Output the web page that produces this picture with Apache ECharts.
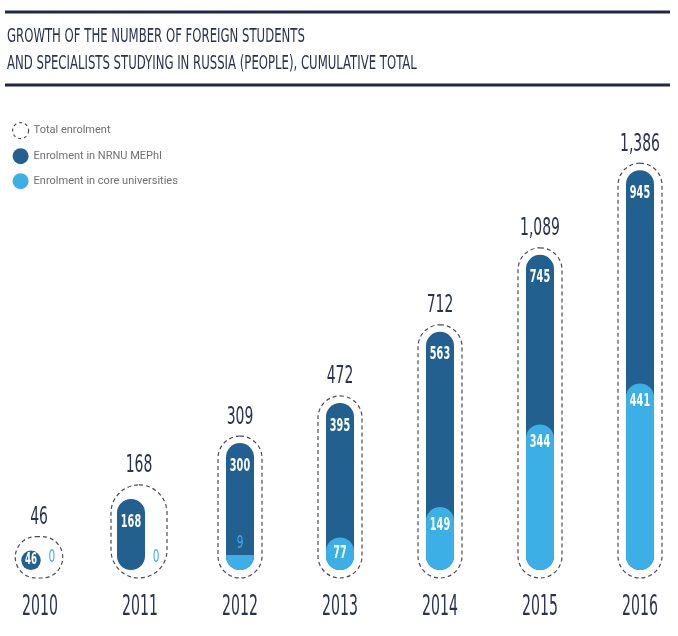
<!DOCTYPE html>
<html>
<head>
<meta charset="utf-8">
<script src="https://cdn.jsdelivr.net/npm/echarts@6/dist/echarts.min.js"></script>
<style>
html,body{margin:0;padding:0;background:#fff;}
#chart{width:678px;height:636px;}
</style>
</head>
<body>
<div id="chart"></div>
<script>
// ---- data ----
const years = ['2010', '2011', '2012', '2013', '2014', '2015', '2016'];
const totalEnrolment = [46, 168, 309, 472, 712, 1089, 1386];
const mephiEnrolment = [46, 168, 300, 395, 563, 745, 945];
const coreEnrolment = [0, 0, 9, 77, 149, 344, 441];
const titleLines = ['GROWTH OF THE NUMBER OF FOREIGN STUDENTS', 'AND SPECIALISTS STUDYING IN RUSSIA (PEOPLE), CUMULATIVE TOTAL'];
const legendNames = ['Total enrolment', 'Enrolment in NRNU MEPhI', 'Enrolment in core universities'];

// ---- style ----
const NAVY = '#2a3152';
const DARK = '#22608f';
const LIGHT = '#3cafe6';
const DASH = '#4d4d4d';
const COND = "'DejaVu Sans Condensed', 'Liberation Sans Narrow', 'Roboto', sans-serif";
const PILL_W = 28;

function pillGeom(api, idx, mephi, core) {
  const base = api.coord([idx, 0]);
  const top = api.coord([idx, mephi]);
  const h = base[1] - top[1];
  const w = Math.min(PILL_W, h);
  const pc = core === 0 ? base[0] - 9 : base[0];
  return { cx: base[0], pc, by: base[1], ty: top[1], h, w };
}

function condText(x, y, text, size, fill, weight, sx) {
  return {
    type: 'text', x, y, scaleX: sx,
    style: { x: 0, y: 0, text, fill, font: (weight || 'normal') + ' ' + size + 'px ' + COND, align: 'center', verticalAlign: 'middle' }
  };
}

const chart = echarts.init(document.getElementById('chart'));
chart.setOption({
  animation: false,
  backgroundColor: '#fff',
  grid: { left: 0, right: 0, top: 20, bottom: 66 },
  xAxis: { type: 'value', min: -0.4, max: 6.38, show: false },
  yAxis: { type: 'value', min: 0, max: 1300, show: false },
  legend: {
    orient: 'vertical', left: 7, top: 117, itemWidth: 16, itemHeight: 16, itemGap: 9,
    textStyle: { fontFamily: 'Roboto', fontSize: 11, color: '#6f6f74', padding: [0, 0, 0, 0] },
    data: [
      { name: legendNames[0], icon: 'circle', itemStyle: { color: '#fff', borderColor: DASH, borderWidth: 1.2, borderType: [3, 3] } },
      { name: legendNames[1], icon: 'circle', itemStyle: { color: DARK } },
      { name: legendNames[2], icon: 'circle', itemStyle: { color: LIGHT } }
    ]
  },
  graphic: [
    { type: 'line', shape: { x1: 5, y1: 12, x2: 670, y2: 12 }, style: { stroke: '#1f2745', lineWidth: 3 } },
    { type: 'line', shape: { x1: 5, y1: 85, x2: 670, y2: 85 }, style: { stroke: '#1f2745', lineWidth: 3 } },
    { type: 'text', x: 7, y: 37, scaleX: 0.65, style: { text: titleLines[0], fill: NAVY, font: '20px ' + COND, verticalAlign: 'middle' } },
    { type: 'text', x: 7, y: 64, scaleX: 0.65, style: { text: titleLines[1], fill: NAVY, font: '20px ' + COND, verticalAlign: 'middle' } }
  ],
  series: [
    {
      name: legendNames[0], type: 'custom', itemStyle: { color: '#fff', borderColor: DASH },
      data: years.map((y, i) => [i, totalEnrolment[i], mephiEnrolment[i], coreEnrolment[i]]),
      renderItem: function (params, api) {
        const i = api.value(0), total = api.value(1), mephi = api.value(2), core = api.value(3);
        const g = pillGeom(api, i, mephi, core);
        let x0, x1, y0;
        if (core === 0) {
          x0 = g.pc - g.w / 2 - 6; x1 = g.pc + g.w / 2 + 22; y0 = g.ty - 14;
        } else {
          x0 = g.pc - g.w / 2 - 8; x1 = g.pc + g.w / 2 + 8; y0 = g.ty - 7;
        }
        const y1 = g.by + 8;
        const r = Math.min((x1 - x0) / 2, (y1 - y0) / 2);
        return {
          type: 'group', children: [
            { type: 'rect', shape: { x: x0, y: y0, width: x1 - x0, height: y1 - y0, r }, style: { fill: 'none', stroke: DASH, lineWidth: 1.2, lineDash: [4, 3] } },
            condText((x0 + x1) / 2, y0 - 19, total.toLocaleString('en-US'), 25, NAVY, 'normal', 0.62),
            condText(g.cx, g.by + 38, years[i], 28, NAVY, 'normal', 0.56)
          ]
        };
      }
    },
    {
      name: legendNames[1], type: 'custom', itemStyle: { color: DARK },
      data: years.map((y, i) => [i, mephiEnrolment[i], coreEnrolment[i]]),
      renderItem: function (params, api) {
        const i = api.value(0), mephi = api.value(1), core = api.value(2);
        const g = pillGeom(api, i, mephi, core);
        const ly = g.h < 40 ? g.by - g.h / 2 : g.ty + 23;
        return {
          type: 'group', children: [
            { type: 'rect', shape: { x: g.pc - g.w / 2, y: g.ty, width: g.w, height: g.h, r: g.w / 2 }, style: { fill: DARK } },
            condText(g.pc, ly, String(mephi), g.h < 40 ? 16 : 18, '#fff', 'bold', 0.6)
          ]
        };
      }
    },
    {
      name: legendNames[2], type: 'custom', itemStyle: { color: LIGHT },
      data: years.map((y, i) => [i, coreEnrolment[i], mephiEnrolment[i]]),
      renderItem: function (params, api) {
        const i = api.value(0), core = api.value(1), mephi = api.value(2);
        const g = pillGeom(api, i, mephi, core);
        const children = [];
        if (core === 0) {
          children.push(condText(g.pc + g.w / 2 + 11, g.by - 13, '0', 18, LIGHT, 'normal', 0.65));
        } else {
          const base = api.coord([i, 0]);
          const top = api.coord([i, core]);
          let h = base[1] - top[1];
          if (h >= PILL_W) {
            children.push({ type: 'rect', shape: { x: g.pc - PILL_W / 2, y: top[1], width: PILL_W, height: h, r: PILL_W / 2 }, style: { fill: LIGHT } });
            children.push(condText(g.pc, top[1] + Math.min(18, h / 2), String(core), 18, '#fff', 'bold', 0.6));
          } else {
            const hh = Math.max(h, 15);
            children.push({ type: 'rect', shape: { x: g.pc - PILL_W / 2, y: base[1] - hh, width: PILL_W, height: hh, r: [0, 0, PILL_W / 2, PILL_W / 2] }, style: { fill: LIGHT } });
            children.push(condText(g.pc, base[1] - hh - 12, String(core), 18, LIGHT, 'normal', 0.65));
          }
        }
        return { type: 'group', children };
      }
    }
  ]
});
</script>
</body>
</html>
